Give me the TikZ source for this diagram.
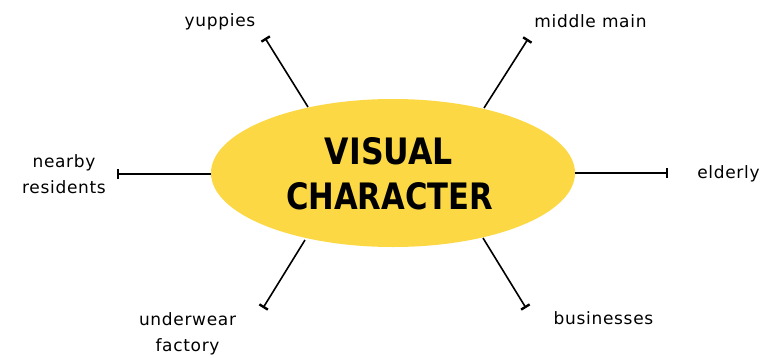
\documentclass[tikz,border=0pt]{standalone}
\usepackage{fontspec}
\setmainfont{DejaVu Sans}[LetterSpace=4]
\newfontfamily\titlefont{DejaVu Sans}[BoldFont=DejaVu Sans Bold]
\usetikzlibrary{arrows.meta,shapes.geometric}
\definecolor{hub}{RGB}{252,216,68}
\begin{document}
\begin{tikzpicture}[x=1pt,y=-1pt,
  hubnode/.style={ellipse,fill=hub,minimum width=364pt,minimum height=148pt,inner sep=0pt},
  leaf/.style={font=\fontsize{17}{25.5}\selectfont,align=center,inner sep=0pt,anchor=base},
  spoke/.style={line width=1.6pt,-{Bar[width=10pt,line width=2.4pt]}}]
\useasboundingbox (0,0) rectangle (766,357);
\node[hubnode] (c) at (393,173) {};
\node (t1) at (389,151.5) {\resizebox{128pt}{27pt}{\titlefont\bfseries VISUAL}};
\node (t2) at (389.5,196) {\resizebox{207pt}{27pt}{\titlefont\bfseries CHARACTER}};
% ends on ellipse
\coordinate (s1) at (308,107);
\coordinate (s2) at (484,108);
\coordinate (s3) at (211,174);
\coordinate (s4) at (575,173);
\coordinate (s5) at (305,240);
\coordinate (s6) at (483,238);
% free ends
\coordinate (e1) at (265,38);
\coordinate (e2) at (528,39);
\coordinate (e3) at (117,174);
\coordinate (e4) at (668,173);
\coordinate (e5) at (263,308);
\coordinate (e6) at (526,308);
\draw[spoke] (s1) -- (e1);
\draw[spoke] (s2) -- (e2);
\draw[spoke] (s3) -- (e3);
\draw[spoke] (s4) -- (e4);
\draw[spoke] (s5) -- (e5);
\draw[spoke] (s6) -- (e6);
\node[leaf] (l1) at (220,26) {yuppies};
\node[leaf] (l2) at (590.5,27) {middle main};
\node[leaf] (l3) at (64,193) {nearby\\residents};
\node[leaf] (l4) at (728.5,178) {elderly};
\node[leaf] (l5) at (187.5,351) {underwear\\factory};
\node[leaf] (l6) at (603.5,324) {businesses};
\end{tikzpicture}
\end{document}
